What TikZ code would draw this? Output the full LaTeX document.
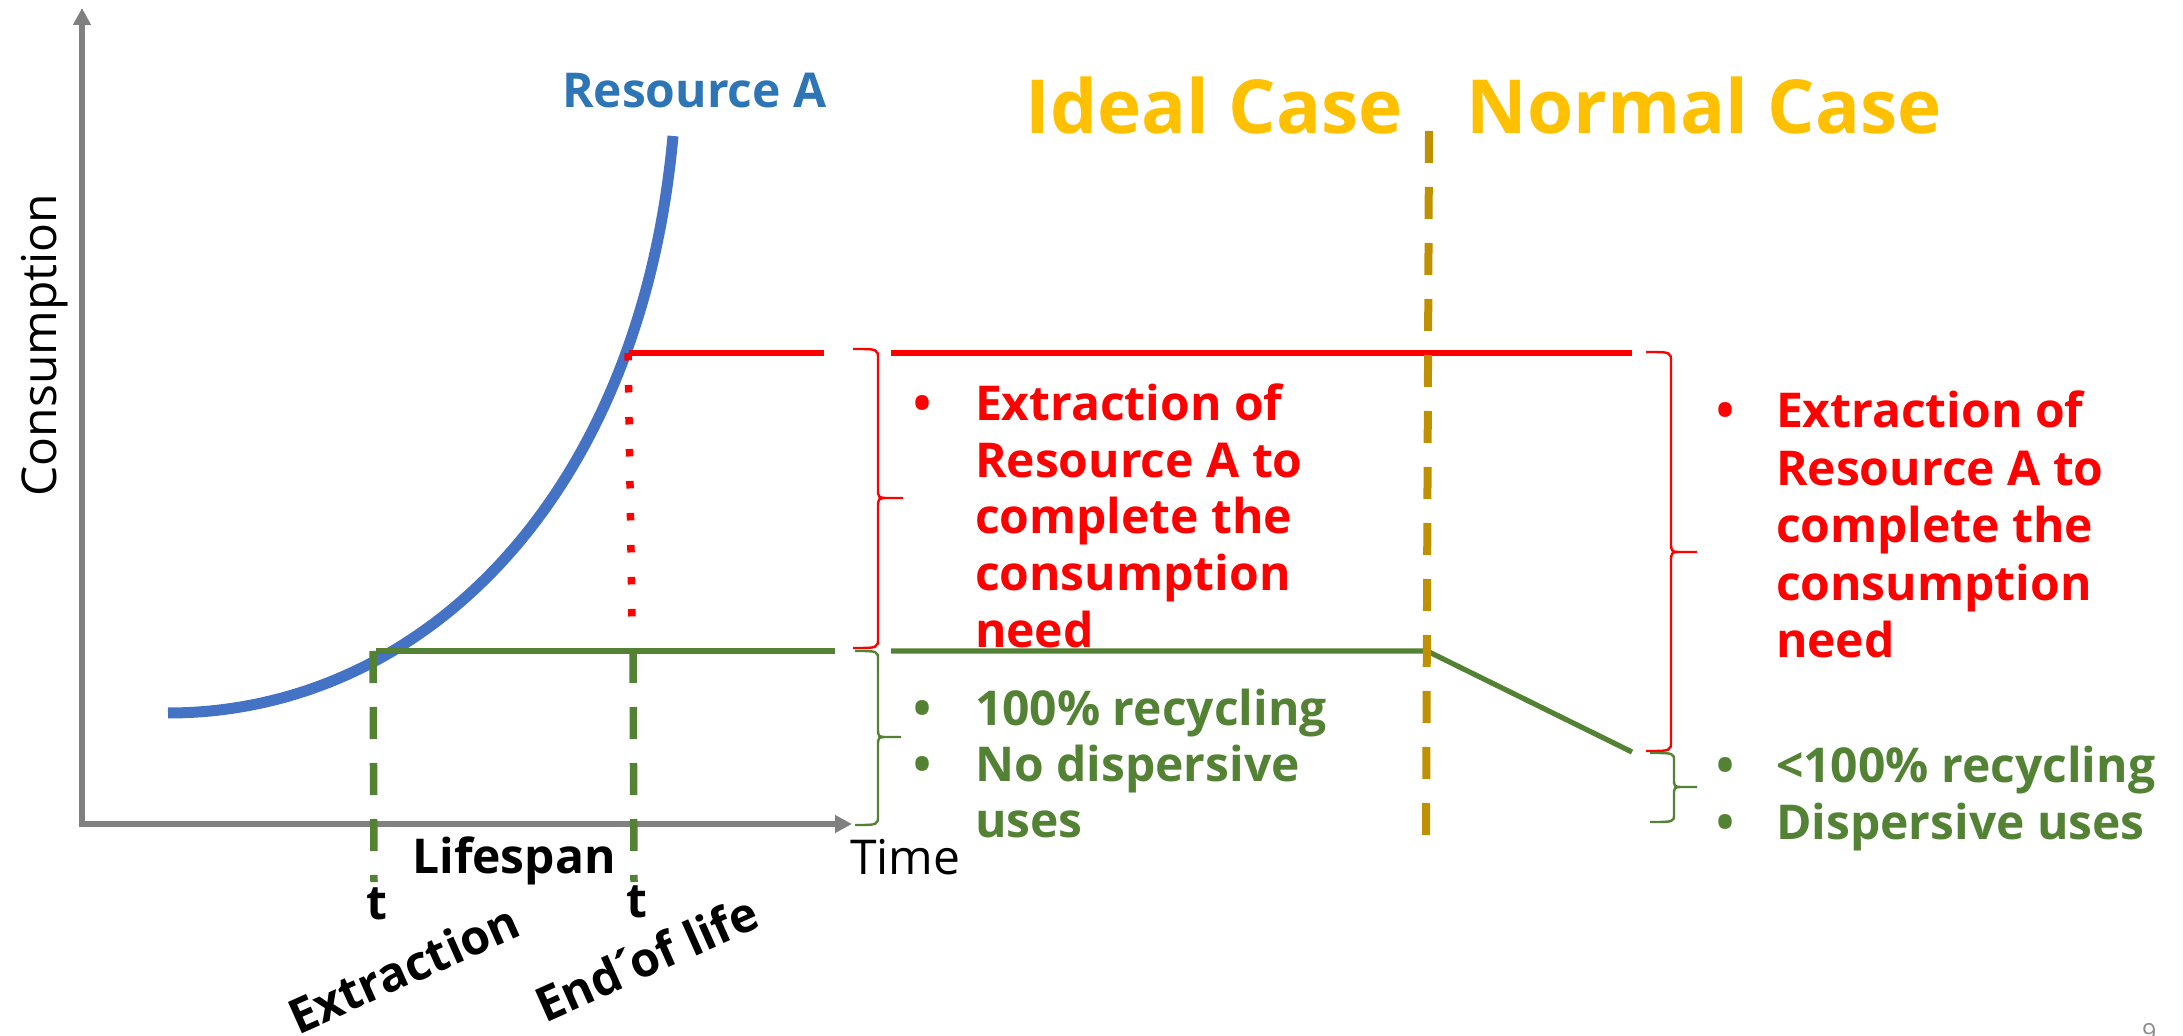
\documentclass[tikz,border=0pt]{standalone}
\usepackage{fontspec}
\setmainfont{Open Sans}
\usetikzlibrary{arrows.meta}
\definecolor{axisgray}{HTML}{808080}
\definecolor{curveblue}{HTML}{4472C4}
\definecolor{textblue}{HTML}{2E75B6}
\definecolor{myred}{HTML}{FF0000}
\definecolor{mygreen}{HTML}{548235}
\definecolor{goldtext}{HTML}{FFC000}
\definecolor{golddash}{HTML}{BF9000}
\definecolor{pagegray}{HTML}{8C8C8C}
\begin{document}
\begin{tikzpicture}[x=0.5pt,y=-0.5pt,
  every node/.style={inner sep=0pt, outer sep=0pt},
  axisline/.style={draw=axisgray, line width=3pt, line join=miter,
    {Triangle[length=8.5pt,width=8.5pt]}-{Triangle[length=8.5pt,width=8.5pt]}},
  curveline/.style={draw=curveblue, line width=5.5pt},
  redline/.style={draw=myred, line width=3pt},
  greenline/.style={draw=mygreen, line width=2.6pt},
  reddots/.style={draw=myred, line width=3.75pt, dash pattern=on 3.75pt off 12.25pt},
  greendash/.style={draw=mygreen, line width=3.75pt, dash pattern=on 16pt off 12pt},
  golddashed/.style={draw=golddash, line width=4pt, dash pattern=on 16pt off 12pt},
  bracered/.style={draw=myred, line width=1.2pt},
  bracegreen/.style={draw=mygreen, line width=1.2pt},
  boldtxt/.style={font=\fontsize{24pt}{28pt}\selectfont\bfseries},
  redtxt/.style={boldtxt, text=myred, anchor=base west},
  greentxt/.style={boldtxt, text=mygreen, anchor=base west},
  bulletred/.style={boldtxt, text=myred, anchor=base},
  bulletgreen/.style={boldtxt, text=mygreen, anchor=base},
  casetxt/.style={font=\fontsize{37.3pt}{44pt}\selectfont\bfseries, text=goldtext, anchor=base},
  regtxt/.style={font=\fontsize{24pt}{28pt}\selectfont}
]
\useasboundingbox (0,0) rectangle (2183,1036);

% axes
\coordinate (ytop) at (82,8);
\coordinate (origin) at (82,824);
\coordinate (xend) at (852,824);
\draw[axisline] (ytop) -- (origin) -- (xend);

% resource curve
\coordinate (cstart) at (168,713);
\coordinate (cend) at (673,136);
\draw[curveline] (cstart) .. controls (420,713) and (640,500) .. (cend);

% red consumption level
\coordinate (r0) at (629,353);
\coordinate (r1) at (824,353);
\coordinate (r2) at (891,353);
\coordinate (r3) at (1632,353);
\draw[redline] (r0) -- (r1);
\draw[redline] (r2) -- (r3);
\coordinate (rd0) at (628,353);
\coordinate (rd1) at (632,617);
\draw[reddots] (rd0) -- (rd1);

% green recycling level
\coordinate (g0) at (376,651);
\coordinate (g1) at (835,651);
\coordinate (g2) at (891,651);
\coordinate (g3) at (1427,651);
\coordinate (g4) at (1632,752);
\draw[greenline] (g0) -- (g1);
\draw[greenline, line join=round] (g2) -- (g3) -- (g4);

% green dashed verticals
\coordinate (ga) at (373,651);
\coordinate (gb) at (374,882);
\coordinate (gc) at (633,651);
\coordinate (gd) at (634,882);
\draw[greendash] (ga) -- (gb);
\draw[greendash] (gc) -- (gd);

% gold separator
\coordinate (s0) at (1429,131);
\coordinate (s1) at (1426,835);
\draw[golddashed] (s0) -- (s1);

% braces
\draw[bracered] (853,349) .. controls (878,349) .. (878,359) -- (878,488)
  .. controls (878,498) .. (889,498) -- (903,498) -- (889,498)
  .. controls (878,498) .. (878,508) -- (878,638) .. controls (878,648) .. (853,648);
\draw[bracegreen] (855,651) .. controls (878,651) .. (878,660) -- (878,728)
  .. controls (878,737) .. (888,737) -- (901,737) -- (888,737)
  .. controls (878,737) .. (878,746) -- (878,815) .. controls (878,825) .. (855,825);
\draw[bracered] (1646,352) .. controls (1671,352) .. (1671,362) -- (1671,542)
  .. controls (1671,552) .. (1683,552) -- (1697,552) -- (1683,552)
  .. controls (1671,552) .. (1671,562) -- (1671,741) .. controls (1671,751) .. (1646,751);
\draw[bracegreen] (1650,753) .. controls (1674,753) .. (1674,761) -- (1674,779)
  .. controls (1674,787) .. (1684,787) -- (1697,787) -- (1684,787)
  .. controls (1674,787) .. (1674,795) -- (1674,814) .. controls (1674,822) .. (1650,822);

% axis labels
\node[regtxt, rotate=90, anchor=base] (cons) at (56,345) {Consumption};
\node[regtxt, anchor=base west] (time) at (850,874) {Time};
\node[boldtxt, text=textblue, anchor=base west] (resA) at (562,108) {Resource A};
\node[boldtxt, anchor=base] (life) at (514,873) {Lifespan};
\node[boldtxt, anchor=base] (t1) at (377,919) {t};
\node[boldtxt, anchor=base] (t2) at (637,917) {t};
\node[boldtxt, anchor=base west, rotate=24] (extr) at (298,1035) {Extraction};
\node[boldtxt, anchor=base west, rotate=24] (eol) at (545,1023)
  {End \makebox[0pt]{\hspace*{-0.15em}\char"00B4}of life};

% case titles
\node[casetxt] (ideal) at (1214,134) {Ideal Case};
\node[casetxt] (normal) at (1704,134) {Normal Case};

% ideal case lists
\node[bulletred] (b1) at (923,421) {•};
\node[redtxt] (a1) at (975,421) {Extraction of};
\node[redtxt] (a2) at (975,477.5) {Resource A to};
\node[redtxt] (a3) at (975,534) {complete the};
\node[redtxt] (a4) at (975,590.5) {consumption};
\node[redtxt] (a5) at (975,647) {need};
\node[bulletgreen] (b2) at (923,725) {•};
\node[bulletgreen] (b3) at (923,781) {•};
\node[greentxt] (c1) at (975,725) {100\% recycling};
\node[greentxt] (c2) at (975,781) {No dispersive};
\node[greentxt] (c3) at (975,837) {uses};

% normal case lists
\node[bulletred] (b4) at (1725,428) {•};
\node[redtxt] (d1) at (1776,428) {Extraction of};
\node[redtxt] (d2) at (1776,485.5) {Resource A to};
\node[redtxt] (d3) at (1776,543) {complete the};
\node[redtxt] (d4) at (1776,600.5) {consumption};
\node[redtxt] (d5) at (1776,658) {need};
\node[bulletgreen] (b5) at (1725,782) {•};
\node[bulletgreen] (b6) at (1725,839.5) {•};
\node[greentxt] (e1) at (1776,782) {<100\% recycling};
\node[greentxt] (e2) at (1776,839.5) {Dispersive uses};

% page number
\node[font=\fontsize{12.5pt}{14pt}\selectfont, text=pagegray, anchor=base west] (pg) at (2142,1041) {9};
\end{tikzpicture}
\end{document}
